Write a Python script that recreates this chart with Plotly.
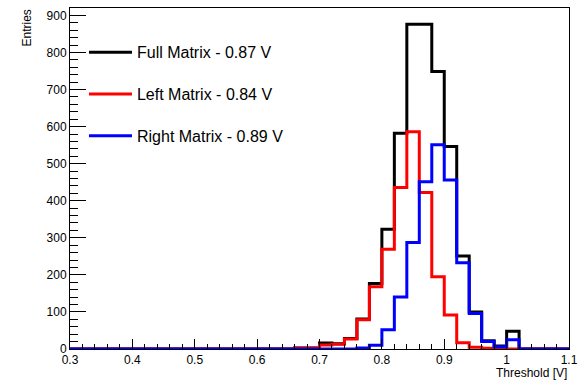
import numpy as np
import plotly.graph_objects as go

# Histogram binning: 40 bins of 0.02 V from 0.30 V to 1.10 V
bin_start = 0.30
bin_width = 0.02
n_bins = 40

# Counts per bin (index 0 -> [0.30, 0.32), ..., index 39 -> [1.08, 1.10))
full_counts = [0] * 18 + [3, 3, 16, 14, 28, 81, 177, 323, 582, 876, 876, 749,
                          546, 251, 100, 22, 8, 48] + [0] * 4
left_counts = [0] * 18 + [3, 3, 11, 13, 27, 79, 168, 269, 436, 586, 422, 195,
                          92, 17, 5, 2, 2, 0] + [0] * 4
right_counts = [0] * 18 + [0, 0, 0, 0, 0, 3, 10, 52, 140, 287, 451, 551,
                           456, 233, 96, 20, 6, 25] + [0] * 4

series_names = ["Full Matrix - 0.87 V", "Left Matrix - 0.84 V", "Right Matrix - 0.89 V"]
series_colors = ["#000000", "#ff0000", "#0000ff"]

x_ticks = [0.3, 0.4, 0.5, 0.6, 0.7, 0.8, 0.9, 1.0, 1.1]
x_tick_labels = ["0.3", "0.4", "0.5", "0.6", "0.7", "0.8", "0.9", "1", "1.1"]
y_ticks = [0, 100, 200, 300, 400, 500, 600, 700, 800, 900]

edges = bin_start + bin_width * np.arange(n_bins + 1)

FONT = "Liberation Sans, Arial, Helvetica, sans-serif"

fig = go.Figure()
for i, (counts, name, color) in enumerate(zip([full_counts, left_counts, right_counts],
                                              series_names, series_colors)):
    y = list(counts) + [counts[-1]]
    fig.add_trace(go.Scatter(
        x=edges, y=y, mode="lines", line=dict(color=color, width=3, shape="hv"),
        name=name, legendgroup=f"g{i}", hoverinfo="skip",
    ))

axis_common = dict(
    showline=True, linecolor="black", linewidth=1, mirror=True,
    ticks="inside", tickcolor="black", tickwidth=1,
    showgrid=False, zeroline=False,
    tickfont=dict(family=FONT, size=12, color="black"),
)

fig.update_layout(
    width=585, height=380,
    margin=dict(l=70, r=12, t=7, b=31),
    paper_bgcolor="white", plot_bgcolor="white",
    xaxis=dict(range=[0.3, 1.1], tickvals=x_ticks, ticktext=x_tick_labels, ticklen=10,
               minor=dict(dtick=0.02, tick0=0.3, ticks="inside", ticklen=5,
                          tickcolor="black", tickwidth=1, showgrid=False),
               **axis_common),
    yaxis=dict(range=[0, 920], tickvals=y_ticks, ticklen=16,
               minor=dict(dtick=20, tick0=0, ticks="inside", ticklen=8,
                          tickcolor="black", tickwidth=1, showgrid=False),
               **axis_common),
    showlegend=True,
    legend=dict(x=0.028, y=0.92, xanchor="left", yanchor="top",
                bgcolor="rgba(0,0,0,0)", borderwidth=0,
                font=dict(family=FONT, size=16, color="black"),
                tracegroupgap=18, itemwidth=43),
    annotations=[
        dict(text="Threshold [V]", xref="paper", yref="paper", x=1.0, y=0,
             xanchor="right", yanchor="top", yshift=-15, showarrow=False,
             font=dict(family=FONT, size=12, color="black")),
        dict(text="Entries", xref="paper", yref="paper", x=0, y=1.0,
             xanchor="right", yanchor="top", xshift=-35, textangle=-90, showarrow=False,
             font=dict(family=FONT, size=12, color="black")),
    ],
)

fig.write_html("out.html")
